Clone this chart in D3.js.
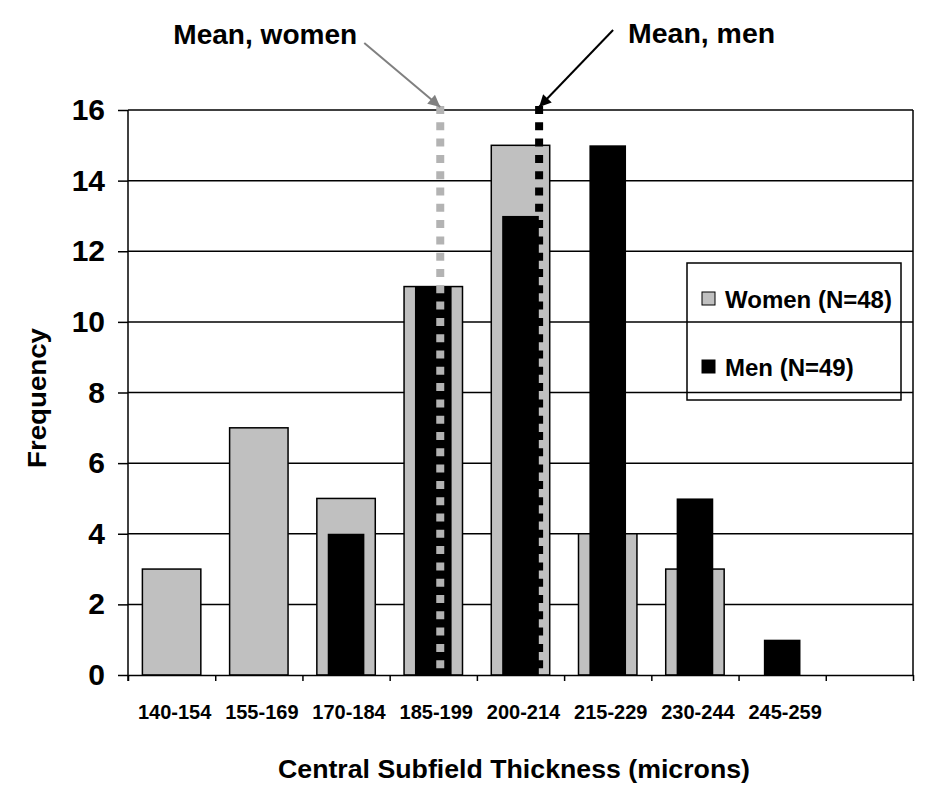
<!DOCTYPE html>
<html>
<head>
<meta charset="utf-8">
<script src="https://cdn.jsdelivr.net/npm/d3@7"></script>
<style>
  body { margin: 0; background: #fff; }
  svg { display: block; font-family: "Liberation Sans", Arial, sans-serif; font-weight: bold; }
</style>
</head>
<body>
<div id="chart"></div>
<script>
// histogram data
var categories = ['140-154', '155-169', '170-184', '185-199', '200-214', '215-229', '230-244', '245-259', ''];
var women = [3, 7, 5, 11, 15, 4, 3, 0, 0];
var men = [0, 0, 4, 11, 13, 15, 5, 1, 0];
var yTicks = [0, 2, 4, 6, 8, 10, 12, 14, 16];
var binEdges = [140, 155, 170, 185, 200, 215, 230, 245, 260, 275];
var meanLabels = ['Mean, women', 'Mean, men'];
var meanValues = [193.7, 210.7];
var legendLabels = ['Women (N=48)', 'Men (N=49)'];

var width = 952,
    height = 798,
    margin = {top: 110, left: 128, right: 39, bottom: 123}; // plot area 128..913 x 110..675

var svg = d3.select('#chart').append('svg')
    .attr('width', width)
    .attr('height', height);

var x = d3.scaleBand()
    .domain(d3.range(categories.length))
    .range([margin.left, width - margin.right]);

// linear version of the same axis, used for bin edges and the mean lines
var xLin = d3.scaleLinear()
    .domain([binEdges[0], binEdges[binEdges.length - 1]])
    .range([margin.left, width - margin.right]);

var y = d3.scaleLinear()
    .domain([0, 16])
    .range([height - margin.bottom, margin.top]);

var bw = x.bandwidth();

// gridlines first, bars sit on top
svg.append('g').attr('class', 'grid')
  .selectAll('line')
  .data(yTicks.filter(d => d > 0))
  .enter().append('line')
    .attr('x1', margin.left).attr('x2', width - margin.right)
    .attr('y1', d => y(d)).attr('y2', d => y(d))
    .attr('stroke', '#000').attr('stroke-width', 1.5);

// right border of the plot area
svg.append('line')
    .attr('x1', width - margin.right).attr('x2', width - margin.right)
    .attr('y1', y(16)).attr('y2', y(0))
    .attr('stroke', '#000').attr('stroke-width', 1.5);

// women bars (wide, grey)
svg.append('g').selectAll('rect')
  .data(women.map((v, i) => ({i: i, v: v})).filter(d => d.v > 0))
  .enter().append('rect')
    .attr('x', d => x(d.i) + bw * 0.165)
    .attr('width', bw * 0.67)
    .attr('y', d => y(d.v))
    .attr('height', d => y(0) - y(d.v))
    .attr('fill', '#c0c0c0')
    .attr('stroke', '#000').attr('stroke-width', 1.5);

// men bars (narrow, black), drawn over the women bars
svg.append('g').selectAll('rect')
  .data(men.map((v, i) => ({i: i, v: v})).filter(d => d.v > 0))
  .enter().append('rect')
    .attr('x', d => x(d.i) + bw * 0.29)
    .attr('width', bw * 0.42)
    .attr('y', d => y(d.v))
    .attr('height', d => y(0) - y(d.v))
    .attr('fill', '#000');

// dotted mean lines
var meanColors = ['#b3b3b3', '#000'];
svg.append('g').selectAll('line')
  .data(meanValues)
  .enter().append('line')
    .attr('x1', d => xLin(d)).attr('x2', d => xLin(d))
    .attr('y1', y(16) - 4).attr('y2', y(0))
    .attr('stroke', (d, i) => meanColors[i])
    .attr('stroke-width', 8)
    .attr('stroke-dasharray', '8,8.3');

// axes
var yAxis = d3.axisLeft(y)
    .tickValues(yTicks)
    .tickSize(10)
    .tickSizeOuter(0)
    .tickPadding(13);

var gy = svg.append('g')
    .attr('transform', `translate(${margin.left},0)`)
    .call(yAxis);
gy.select('.domain').attr('stroke-width', 1.5).attr('d', `M0,${y(16)}V${y(0) + 6}`);
gy.selectAll('.tick line').attr('stroke-width', 1.5);
gy.selectAll('.tick text')
    .attr('font-size', 30)
    .attr('font-family', '"Liberation Sans", Arial, sans-serif')
    .attr('font-weight', 'bold')
    .attr('fill', '#000');

var xAxis = d3.axisBottom(xLin)
    .tickValues(binEdges)
    .tickSize(6)
    .tickSizeOuter(0)
    .tickFormat('');

var gx = svg.append('g')
    .attr('transform', `translate(0,${y(0)})`)
    .call(xAxis);
gx.select('.domain').attr('stroke-width', 1.5);
gx.selectAll('.tick line').attr('stroke-width', 1.5);

// category labels under each bin
svg.append('g').selectAll('text')
  .data(categories)
  .enter().append('text')
    .attr('x', (d, i) => x(i) + bw / 2 + 3)
    .attr('y', 719)
    .attr('text-anchor', 'middle')
    .attr('font-size', 20)
    .text(d => d);

// axis titles
svg.append('text')
    .attr('x', 514).attr('y', 778)
    .attr('text-anchor', 'middle')
    .attr('font-size', 25)
    .attr('textLength', 472).attr('lengthAdjust', 'spacingAndGlyphs')
    .text('Central Subfield Thickness (microns)');

svg.append('text')
    .attr('transform', 'translate(46,398)rotate(-90)')
    .attr('text-anchor', 'middle')
    .attr('font-size', 26)
    .attr('textLength', 140).attr('lengthAdjust', 'spacingAndGlyphs')
    .text('Frequency');

// legend, transparent box so the gridlines run through it
var legend = svg.append('g').attr('class', 'legend');
legend.append('rect')
    .attr('x', 687).attr('y', 263)
    .attr('width', 214).attr('height', 137)
    .attr('fill', 'none')
    .attr('stroke', '#000').attr('stroke-width', 1.5);

var legendFill = ['#c0c0c0', '#000'];
var item = legend.selectAll('.item')
  .data(legendLabels)
  .enter().append('g').attr('class', 'item')
    .attr('transform', (d, i) => `translate(702,${292 + i * 68})`);

item.append('rect')
    .attr('width', 13).attr('height', 13)
    .attr('fill', (d, i) => legendFill[i])
    .attr('stroke', '#000').attr('stroke-width', 1);

item.append('text')
    .attr('x', 23).attr('y', 16)
    .attr('font-size', 24)
    .text(d => d);

// mean annotations with arrows
var defs = svg.append('defs');
var arrowColors = ['#808080', '#000'];
arrowColors.forEach(function(c, i) {
  defs.append('marker')
      .attr('id', 'arrow' + i)
      .attr('viewBox', '0 0 10 10')
      .attr('refX', 10).attr('refY', 5)
      .attr('markerWidth', 14).attr('markerHeight', 12)
      .attr('markerUnits', 'userSpaceOnUse')
      .attr('orient', 'auto')
    .append('path')
      .attr('d', 'M0,0L10,5L0,10z')
      .attr('fill', c);
});

// label placement: start of arrow and text anchor relative to each mean line
var annot = [
  {dx0: -76, dy0: -64, tx: -267, ty: -63.5, tl: 184},
  {dx0: 74, dy0: -77, tx: 89, ty: -64.5, tl: 147}
];

meanValues.forEach(function(v, i) {
  var mx = xLin(v), my = y(16) - 3;
  var a = annot[i];
  svg.append('line')
      .attr('x1', mx + a.dx0).attr('y1', my + a.dy0)
      .attr('x2', mx).attr('y2', my)
      .attr('stroke', arrowColors[i]).attr('stroke-width', 2)
      .attr('marker-end', `url(#arrow${i})`);
  svg.append('text')
      .attr('x', mx + a.tx).attr('y', my + a.ty)
      .attr('font-size', 27)
      .attr('textLength', a.tl).attr('lengthAdjust', 'spacingAndGlyphs')
      .text(meanLabels[i]);
});
</script>
</body>
</html>
